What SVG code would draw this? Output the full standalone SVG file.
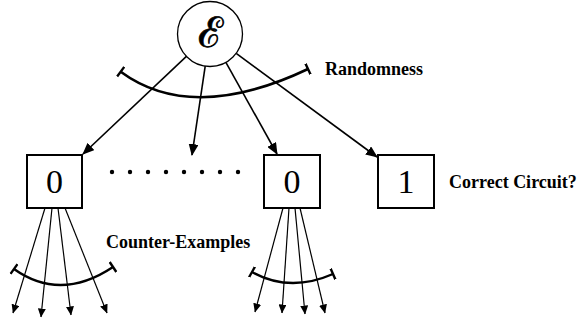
<svg xmlns="http://www.w3.org/2000/svg" width="580" height="325" viewBox="0 0 580 325">
<style>
.node{fill:#fff;stroke:#000;stroke-width:2}
.circ{fill:#fff;stroke:#000;stroke-width:1.3}
.digit{font-family:"Liberation Serif","Times New Roman",serif;font-size:34px;text-anchor:middle;fill:#000}
.lbl{font-family:"Liberation Serif","Times New Roman",serif;font-size:18px;font-weight:bold;fill:#000}
.conn{fill:none;stroke:#000;stroke-width:1.6;marker-end:url(#ah)}
.fan{fill:none;stroke:#000;stroke-width:1.2;marker-end:url(#ahs)}
.arc{fill:none;stroke:#000;stroke-width:2.6;marker-start:url(#tick);marker-end:url(#tick)}
.arcs{fill:none;stroke:#000;stroke-width:2.4;marker-start:url(#tick);marker-end:url(#tick)}
</style>
<defs>
<marker id="ah" markerUnits="userSpaceOnUse" markerWidth="12" markerHeight="10" refX="11" refY="5" orient="auto" viewBox="0 0 12 10">
<path d="M0,0 L12,5 L0,10 Z" fill="#000"/>
</marker>
<marker id="ahs" markerUnits="userSpaceOnUse" markerWidth="9" markerHeight="8" refX="8.5" refY="4" orient="auto" viewBox="0 0 9 8">
<path d="M0,0 L9,4 L0,8 Z" fill="#000"/>
</marker>
<marker id="tick" markerUnits="userSpaceOnUse" markerWidth="4" markerHeight="12" refX="2" refY="6" orient="auto" viewBox="0 0 4 12">
<line x1="2" y1="0" x2="2" y2="12" stroke="#000" stroke-width="2.4"/>
</marker>
</defs>

<g id="connectors">
<line class="conn" x1="186.4" y1="56.3" x2="83" y2="154"/>
<line class="conn" x1="205.2" y1="66.2" x2="192" y2="155"/>
<line class="conn" x1="225.9" y1="62.3" x2="277" y2="154"/>
<line class="conn" x1="236.2" y1="53.3" x2="377" y2="157"/>
<line class="fan" x1="45" y1="208" x2="13" y2="313"/>
<line class="fan" x1="52" y1="208" x2="41" y2="317"/>
<line class="fan" x1="58" y1="208" x2="71" y2="315"/>
<line class="fan" x1="65" y1="208" x2="107" y2="313"/>
<line class="fan" x1="283" y1="208" x2="255" y2="312"/>
<line class="fan" x1="289" y1="208" x2="282" y2="313"/>
<line class="fan" x1="295" y1="208" x2="305" y2="314"/>
<line class="fan" x1="300" y1="208" x2="325" y2="313"/>
</g>

<g id="randomness">
<path class="arc" d="M120.7,71.7 Q192,124 308,69"/>
<text class="lbl" x="325" y="75">Randomness</text>
</g>

<g id="counter-examples">
<path class="arcs" d="M14,269 Q60.5,302 113,267"/>
<path class="arcs" d="M252,272 Q289.5,293 333,274"/>
<text class="lbl" x="106" y="248">Counter-Examples</text>
</g>

<g id="eps">
<circle class="circ" cx="210" cy="34" r="32.5"/>
<text x="210" y="47" font-family="DejaVu Serif, serif" font-size="42" text-anchor="middle" stroke="#000" stroke-width="0.7">ℰ</text>
</g>

<g id="box-left">
<rect class="node" x="27" y="155" width="55" height="53"/>
<text class="digit" x="54.5" y="193">0</text>
</g>

<g id="dots" fill="#000">
<circle cx="112" cy="172" r="2.2"/>
<circle cx="130" cy="172" r="2.2"/>
<circle cx="148" cy="172" r="2.2"/>
<circle cx="166" cy="172" r="2.2"/>
<circle cx="184" cy="172" r="2.2"/>
<circle cx="202" cy="172" r="2.2"/>
<circle cx="220" cy="172" r="2.2"/>
<circle cx="238" cy="172" r="2.2"/>
</g>

<g id="box-mid">
<rect class="node" x="264" y="155" width="56" height="53"/>
<text class="digit" x="292" y="193">0</text>
</g>

<g id="box-right">
<rect class="node" x="378" y="155" width="56" height="53"/>
<text class="digit" x="406" y="193">1</text>
<text class="lbl" x="449" y="188">Correct Circuit?</text>
</g>
</svg>
